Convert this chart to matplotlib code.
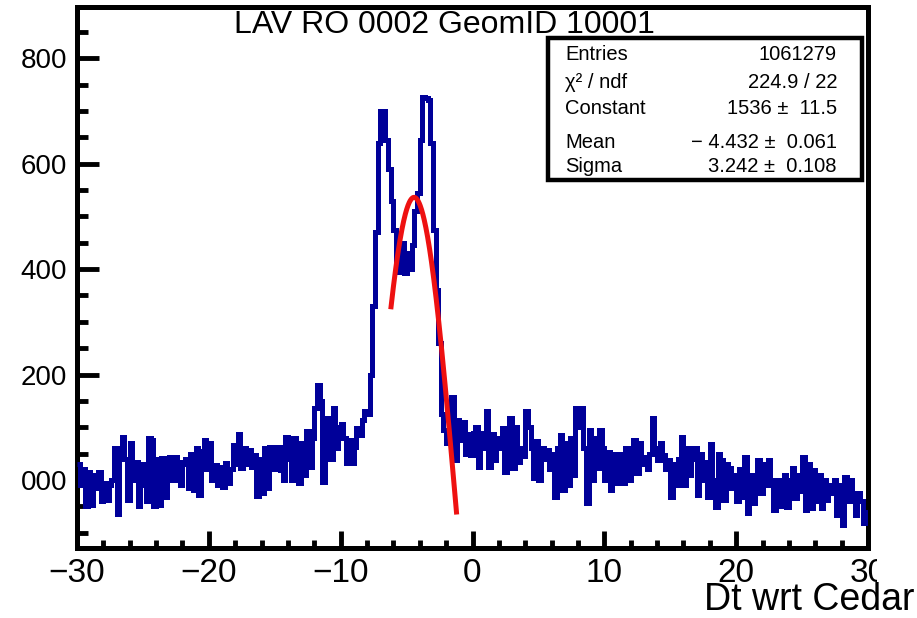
import numpy as np
import matplotlib
matplotlib.use("Agg")
import matplotlib.pyplot as plt
from matplotlib.patches import Rectangle

plt.rcParams['font.family'] = ['Liberation Sans', 'DejaVu Sans']

# ---------------- data ----------------
x_min, x_max, n_bins = -30.0, 30.0, 300
counts = [
    1030, 990, 1020, 950, 1015, 952, 1010, 985, 1015, 960,
    995, 962, 990, 1000, 1060, 935, 1060, 1082, 1040, 962,
    1070, 1000, 1035, 950, 1030, 990, 960, 1079, 1075, 950,
    1040, 952, 1041, 968, 1040, 1044, 1000, 1044, 1035, 990,
    1030, 1040, 985, 1050, 981, 1060, 972, 1055, 1076, 1020,
    1070, 1000, 1028, 990, 1025, 987, 1032, 995, 1020, 1066,
    1030, 1088, 1022, 1060, 1030, 1057, 1025, 1047, 970, 1040,
    975, 1060, 984, 1063, 1020, 1055, 1063, 1019, 1000, 1082,
    1040, 1000, 1079, 1030, 994, 1070, 1010, 1092, 1025, 1080,
    1136, 1180, 1150, 997, 1100, 1117, 1040, 1136, 1060, 1100,
    1107, 1080, 1032, 1076, 1032, 1063, 1098, 1085, 1114, 1130,
    1125, 1200, 1330, 1470, 1640, 1700, 1700, 1645, 1590, 1530,
    1474, 1417, 1395, 1450, 1392, 1430, 1400, 1445, 1510, 1545,
    1645, 1727, 1725, 1720, 1640, 1474, 1360, 1260, 1126, 1095,
    1070, 1095, 1158, 1038, 1114, 1076, 1110, 1050, 1088, 1047,
    1090, 1101, 1025, 1090, 1060, 1130, 1025, 1088, 1038, 1080,
    1060, 1098, 1016, 1090, 1117, 1022, 1100, 1035, 1060, 1045,
    1130, 1100, 1060, 1003, 1073, 1000, 1060, 1040, 1057, 1020,
    1050, 968, 1060, 1085, 981, 1070, 990, 1080, 1010, 1136,
    1100, 1136, 1060, 956, 1095, 1000, 1080, 1022, 1095, 1060,
    1000, 1054, 981, 1050, 994, 1040, 1050, 994, 1060, 1000,
    1050, 1076, 1013, 1070, 1030, 1044, 1020, 1050, 1117, 1060,
    1038, 1070, 1047, 1020, 1038, 968, 1030, 990, 1040, 1082,
    991, 1060, 1010, 1040, 1060, 971, 1050, 1000, 1035, 968,
    1069, 1000, 949, 1050, 1038, 962, 1030, 1022, 985, 1010,
    960, 1020, 968, 1044, 937, 1010, 956, 1000, 1038, 975,
    1030, 990, 1038, 1000, 943, 990, 1000, 950, 1009, 949,
    1000, 1022, 965, 1010, 980, 1044, 943, 1030, 946, 1019,
    960, 1010, 946, 1000, 962, 990, 975, 1000, 934, 990,
    915, 1006, 960, 1000, 975, 934, 975, 960, 918, 940,
]

# fit results (from the stats box)
fit_const, fit_mean, fit_sigma = 1536.0, -4.432, 3.242
fit_lo, fit_hi = -6.2, -1.2

title = "LAV RO 0002 GeomID 10001"
xlabel = "Dt wrt Cedar"
x_ticks = [-30, -20, -10, 0, 10, 20, 30]
x_ticklabels = ["\u221230", "\u221220", "\u221210", "0", "10", "20", "30"]
y_ticks = [1000, 1200, 1400, 1600, 1800]
y_ticklabels = ["000", "200", "400", "600", "800"]
y_lim = (871, 1897)

stats_names = ["Entries", "\u03c7\u00b2 / ndf", "Constant", "Mean", "Sigma"]
stats_values = ["1061279", "224.9 / 22", "1536 \u00b1  11.5",
                "\u2212 4.432 \u00b1  0.061", "3.242 \u00b1  0.108"]

# ---------------- figure ----------------
W, H = 917, 618
fig = plt.figure(figsize=(W / 100, H / 100), dpi=100)
L, R, T, B = 77, 868, 7, 548
ax = fig.add_axes([L / W, 1 - B / H, (R - L) / W, (B - T) / H])

edges = np.linspace(x_min, x_max, n_bins + 1)
ax.stairs(counts, edges, baseline=None, color='#000099', linewidth=3.6, zorder=3)

xf = np.linspace(fit_lo, fit_hi, 200)
yf = fit_const * np.exp(-0.5 * ((xf - fit_mean) / fit_sigma) ** 2)
ax.plot(xf, yf, color='#ee1111', linewidth=3.6, zorder=4, solid_capstyle='butt')

ax.set_xlim(x_min, x_max)
ax.set_ylim(*y_lim)

for s in ax.spines.values():
    s.set_linewidth(3.6)
    s.set_color('black')

ax.set_xticks(x_ticks)
ax.set_xticklabels(x_ticklabels)
ax.set_xticks(np.arange(-28, 30, 2), minor=True)
ax.set_yticks(y_ticks)
ax.set_yticklabels(y_ticklabels)
ax.set_yticks(np.arange(900, 1900, 50), minor=True)

ax.tick_params(axis='x', which='major', direction='in', length=12, width=3.5,
               labelsize=24, pad=7, top=False)
ax.tick_params(axis='x', which='minor', direction='in', length=6, width=3.5, top=False)
ax.tick_params(axis='y', which='major', direction='in', length=16, width=3.5,
               labelsize=20, pad=7, right=False)
ax.tick_params(axis='y', which='minor', direction='in', length=8, width=3.5, right=False)

# title
fig.text(444 / W, 1 - 25 / H, title, ha='center', va='center', fontsize=23)

# stats box
bx0, bx1, by0, by1 = 548, 862, 38, 180
fig.add_artist(Rectangle((bx0 / W, 1 - by1 / H), (bx1 - bx0) / W, (by1 - by0) / H,
                         transform=fig.transFigure, facecolor='white',
                         edgecolor='black', linewidth=3.2, zorder=5))
row_y = [55, 82, 108, 142, 167]
for name, val, yy in zip(stats_names, stats_values, row_y):
    fig.text(565 / W, 1 - yy / H, name, ha='left', va='center', fontsize=14.5, zorder=6)
    fig.text(837 / W, 1 - yy / H, val, ha='right', va='center', fontsize=14.5, zorder=6)

# the picture is cut at the right edge of the canvas: hide the tail of the last tick label
fig.add_artist(Rectangle((877 / W, 1 - 586 / H), 1 - 877 / W, (586 - 552) / H,
                         transform=fig.transFigure, facecolor='white',
                         edgecolor='none', zorder=7))

# x axis title
fig.text(914 / W, 1 - 610 / H, xlabel, ha='right', va='baseline', fontsize=27, zorder=8)

fig.savefig("out.png", dpi=100)
